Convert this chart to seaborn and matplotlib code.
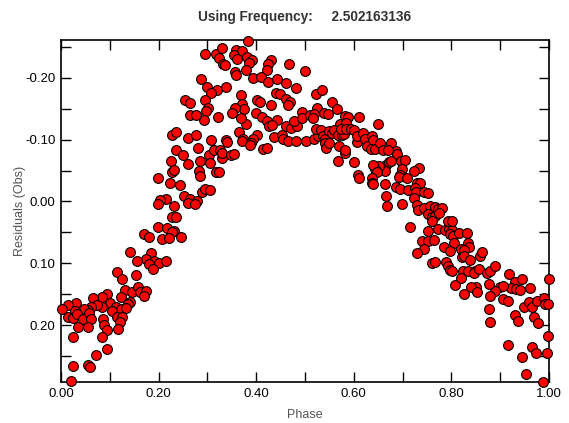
import matplotlib
matplotlib.use("Agg")
import matplotlib.pyplot as plt
from matplotlib.ticker import MultipleLocator, FormatStrFormatter
import seaborn as sns
import pandas as pd

# phase / residual values
phase_rise = [0.2275, 0.2357, 0.1988, 0.2172, 0.2316, 0.2275, 0.1701, 0.1803, 0.2070, 0.2213,
              0.2459, 0.1414, 0.1844, 0.1742, 0.1906, 0.1803, 0.2008, 0.1885, 0.2152, 0.1557,
              0.1148, 0.1250, 0.1537, 0.1311, 0.1455, 0.1578, 0.1619, 0.1742, 0.1701, 0.0943,
              0.0840, 0.0656, 0.1230, 0.1414, 0.1373, 0.1004, 0.1127, 0.1230, 0.1332, 0.1045,
              0.1148, 0.1250, 0.1209, 0.1168, 0.0840, 0.0738, 0.0615, 0.0553, 0.0471, 0.0307,
              0.0143, 0.0287, 0.0020, 0.0143, 0.0246, 0.0328, 0.0451, 0.0574, 0.0615, 0.0553,
              0.0348, 0.0861, 0.0881, 0.0943, 0.0840, 0.0943, 0.0246, 0.0717, 0.0553, 0.0594,
              0.0246, 0.0205]
resid_rise = [0.0258, 0.0258, 0.0419, 0.0435, 0.0484, 0.0500, 0.0532, 0.0581, 0.0613, 0.0597,
              0.0581, 0.0823, 0.0839, 0.0935, 0.0968, 0.1016, 0.1000, 0.1097, 0.0968, 0.0968,
              0.1145, 0.1258, 0.1194, 0.1435, 0.1468, 0.1387, 0.1468, 0.1452, 0.1532, 0.1500,
              0.1548, 0.1565, 0.1548, 0.1629, 0.1661, 0.1645, 0.1710, 0.1742, 0.1726, 0.1774,
              0.1871, 0.1871, 0.1952, 0.2065, 0.1710, 0.1677, 0.1710, 0.1758, 0.1742, 0.1645,
              0.1677, 0.1774, 0.1742, 0.1871, 0.1887, 0.1823, 0.1903, 0.1806, 0.1903, 0.2032,
              0.2032, 0.1903, 0.2000, 0.2081, 0.2194, 0.2387, 0.2194, 0.2484, 0.2645, 0.2677,
              0.2661, 0.2910]

phase_up = [0.2951, 0.3176, 0.3238, 0.3299, 0.3320, 0.3361, 0.2869, 0.2992, 0.3197, 0.3074,
            0.3381, 0.2541, 0.2643, 0.2951, 0.3012, 0.2971, 0.2930, 0.3217, 0.2643, 0.2766,
            0.2275, 0.2357, 0.2602, 0.2766, 0.3074, 0.2807, 0.2357, 0.2500, 0.2254, 0.2602,
            0.2848, 0.3033, 0.3135, 0.3258, 0.3053, 0.3299, 0.2275, 0.2316, 0.2828, 0.2848,
            0.3176, 0.3238, 0.1988, 0.2234, 0.2439, 0.2889, 0.2951, 0.3053, 0.2520, 0.2643,
            0.2787, 0.2152, 0.2029, 0.1988, 0.2316, 0.2602, 0.2746]
resid_up = [-0.2387, -0.2387, -0.2323, -0.2484, -0.2226, -0.2210, -0.1984, -0.1855, -0.1806, -0.1758,
            -0.1855, -0.1645, -0.1597, -0.1645, -0.1516, -0.1468, -0.1323, -0.1371, -0.1403, -0.1403,
            -0.1081, -0.1129, -0.1032, -0.1081, -0.1000, -0.0871, -0.0839, -0.0758, -0.0661, -0.0613,
            -0.0661, -0.0758, -0.0839, -0.0839, -0.0629, -0.0710, -0.0468, -0.0516, -0.0500, -0.0419,
            -0.0468, -0.0468, -0.0371, -0.0290, -0.0258, -0.0145, -0.0194, -0.0177, -0.0081, -0.0032,
            0.0000, -0.0032, -0.0016, 0.0048, 0.0081, 0.0032, 0.0048]

phase_peak = [0.3832, 0.3586, 0.3709, 0.3545, 0.3607, 0.3811, 0.3914, 0.3852, 0.4303, 0.4242,
              0.4221, 0.4672, 0.5000, 0.3566, 0.3586, 0.3791, 0.3934, 0.4098, 0.4242, 0.4426,
              0.4611, 0.4816, 0.3689, 0.4406, 0.4488, 0.4611, 0.4693, 0.4652, 0.4303, 0.4016,
              0.4078, 0.5225, 0.5348, 0.5553, 0.5656, 0.5246, 0.3709, 0.3750, 0.3566, 0.3504,
              0.3996, 0.4119, 0.4221, 0.4426, 0.4262, 0.4324, 0.3791, 0.3689, 0.4611, 0.4713,
              0.4836, 0.4775, 0.4939, 0.4939, 0.5102, 0.5184, 0.5164, 0.5389, 0.5471, 0.5820,
              0.5881, 0.6107, 0.6496, 0.5717, 0.5840, 0.3648, 0.3730, 0.3709, 0.4016, 0.3934,
              0.3893, 0.3873, 0.3381, 0.3402, 0.3299, 0.3484, 0.3545, 0.4139, 0.4221, 0.4365,
              0.4529, 0.4549, 0.4652, 0.4816, 0.5020, 0.5184, 0.5266, 0.5225, 0.5328, 0.5369,
              0.5410, 0.5410, 0.5430, 0.5492, 0.5492, 0.5553, 0.5594, 0.5676, 0.5758, 0.5799,
              0.5738, 0.5840, 0.5943, 0.6004, 0.5697, 0.5820, 0.5820, 0.5676, 0.6004, 0.6066,
              0.6066, 0.6189, 0.6230, 0.6270, 0.6373, 0.6393, 0.6352, 0.6434, 0.6537, 0.6598,
              0.6660, 0.6639, 0.6516, 0.6434, 0.6393, 0.6475, 0.6086, 0.6107, 0.6373, 0.6373,
              0.6393, 0.6639, 0.6660, 0.6680, 0.6721, 0.6762]
resid_peak = [-0.2597, -0.2452, -0.2435, -0.2371, -0.2306, -0.2339, -0.2290, -0.2242, -0.2290, -0.2226,
              -0.2129, -0.2226, -0.2113, -0.2097, -0.2048, -0.2129, -0.2000, -0.2016, -0.1935, -0.1984,
              -0.1919, -0.1839, -0.1726, -0.1758, -0.1742, -0.1661, -0.1613, -0.1565, -0.1565, -0.1645,
              -0.1613, -0.1742, -0.1806, -0.1613, -0.1500, -0.1516, -0.1581, -0.1500, -0.1516, -0.1435,
              -0.1435, -0.1371, -0.1306, -0.1323, -0.1226, -0.1242, -0.1258, -0.1355, -0.1226, -0.1194,
              -0.1226, -0.1306, -0.1452, -0.1355, -0.1403, -0.1419, -0.1355, -0.1435, -0.1419, -0.1387,
              -0.1371, -0.1371, -0.1258, -0.1258, -0.1274, -0.1129, -0.1016, -0.0984, -0.1081, -0.1016,
              -0.0952, -0.0919, -0.1000, -0.0968, -0.0790, -0.0758, -0.0774, -0.0855, -0.0871, -0.1048,
              -0.1081, -0.1016, -0.0984, -0.0984, -0.0984, -0.1016, -0.1065, -0.1177, -0.1161, -0.1065,
              -0.1016, -0.0952, -0.0871, -0.0952, -0.1145, -0.1113, -0.1161, -0.1081, -0.1081, -0.1097,
              -0.1177, -0.1177, -0.1177, -0.1161, -0.0903, -0.0790, -0.0839, -0.0661, -0.0645, -0.0968,
              -0.1065, -0.1113, -0.1016, -0.0903, -0.1065, -0.1000, -0.0855, -0.0855, -0.0952, -0.0839,
              -0.0581, -0.0484, -0.0565, -0.0532, -0.0581, -0.0468, -0.0435, -0.0371, -0.0371, -0.0306,
              -0.0274, -0.0274, -0.0081, 0.0081, -0.0645, -0.0952]

phase_down = [0.6865, 0.6885, 0.6967, 0.7049, 0.6762, 0.6701, 0.6988, 0.7336, 0.7234, 0.6947,
              0.6926, 0.7090, 0.7295, 0.7357, 0.6865, 0.6947, 0.7111, 0.7254, 0.7275, 0.7439,
              0.7520, 0.6988, 0.7234, 0.7295, 0.7316, 0.7439, 0.7561, 0.7664, 0.7725, 0.7807,
              0.7520]
resid_down = [-0.0823, -0.0774, -0.0661, -0.0677, -0.0661, -0.0839, -0.0532, -0.0548, -0.0484, -0.0435,
              -0.0387, -0.0371, -0.0306, -0.0306, -0.0226, -0.0194, -0.0177, -0.0210, -0.0145, -0.0145,
              -0.0129, 0.0048, -0.0048, 0.0065, 0.0145, 0.0113, 0.0081, 0.0097, 0.0129, 0.0113,
              0.0210]

phase_tail = [0.7602, 0.7664, 0.7602, 0.7746, 0.7152, 0.7520, 0.7725, 0.7869, 0.7951, 0.8012,
              0.7971, 0.8033, 0.8156, 0.8320, 0.7930, 0.8012, 0.7398, 0.7520, 0.7643, 0.7439,
              0.7295, 0.8053, 0.7848, 0.7971, 0.8197, 0.8340, 0.8361, 0.8258, 0.8217, 0.8258,
              0.8381, 0.8586, 0.8627, 0.7602, 0.7664, 0.7889, 0.7930, 0.7971, 0.8012, 0.8238,
              0.8340, 0.8484, 0.8463, 0.8566, 0.8730, 0.8791, 0.8893, 0.9180, 0.9303, 0.9447,
              0.9611, 0.9221, 0.9324, 0.9406, 0.8996, 0.9057, 0.8893, 0.8770, 0.8504, 0.8402,
              0.8525, 0.8258, 0.8074, 0.8197, 0.8791, 0.9057, 0.9160, 0.8770, 0.8791, 0.9303,
              0.9365, 0.9488, 0.9590, 0.9652, 0.9693, 0.9775, 0.9754, 0.9898, 0.9918, 0.9980,
              1.0000, 0.9160, 0.9447, 0.9652, 0.9734, 0.9529, 0.9877, 0.9959, 0.9980]
resid_tail = [0.0258, 0.0242, 0.0323, 0.0194, 0.0419, 0.0484, 0.0452, 0.0468, 0.0452, 0.0468,
              0.0532, 0.0565, 0.0516, 0.0516, 0.0323, 0.0323, 0.0645, 0.0645, 0.0629, 0.0774,
              0.0839, 0.0677, 0.0742, 0.0806, 0.0774, 0.0677, 0.0742, 0.0790, 0.0903, 0.0887,
              0.0952, 0.0887, 0.0823, 0.1000, 0.0984, 0.0984, 0.1048, 0.1113, 0.1129, 0.1129,
              0.1129, 0.1129, 0.1161, 0.1097, 0.1161, 0.1129, 0.1048, 0.1177, 0.1306, 0.1258,
              0.1403, 0.1403, 0.1419, 0.1435, 0.1387, 0.1371, 0.1452, 0.1339, 0.1387, 0.1387,
              0.1468, 0.1500, 0.1355, 0.1242, 0.1532, 0.1581, 0.1613, 0.1742, 0.1952, 0.1839,
              0.1935, 0.1710, 0.1629, 0.1710, 0.1871, 0.1968, 0.1613, 0.1565, 0.1661, 0.1661,
              0.1258, 0.2323, 0.2516, 0.2355, 0.2452, 0.2790, 0.2919, 0.2452, 0.2177]

frequency = "2.502163136"

df = pd.DataFrame({
    "Phase": phase_rise + phase_up + phase_peak + phase_down + phase_tail,
    "Residuals": resid_rise + resid_up + resid_peak + resid_down + resid_tail,
})

sns.set_style("ticks")
plt.rcParams["font.family"] = ["Liberation Sans", "DejaVu Sans"]
plt.rcParams["axes.unicode_minus"] = False

fig = plt.figure(figsize=(5.69, 4.23), dpi=100)
ax = fig.add_axes([0.1072, 0.0969, 0.8577, 0.8085])

sns.scatterplot(data=df, x="Phase", y="Residuals", ax=ax, color="#ff0000",
                edgecolor="black", linewidth=0.8, s=50, clip_on=False, zorder=3)

ax.set_xlim(0, 1)
ax.set_ylim(0.292, -0.261)

ax.xaxis.set_major_locator(MultipleLocator(0.2))
ax.xaxis.set_minor_locator(MultipleLocator(0.1))
ax.yaxis.set_major_locator(MultipleLocator(0.1))
ax.yaxis.set_minor_locator(MultipleLocator(0.05))
ax.xaxis.set_major_formatter(FormatStrFormatter("%.2f"))
ax.yaxis.set_major_formatter(FormatStrFormatter("%.2f"))

ax.tick_params(which="both", direction="in", top=True, right=True,
               length=7, width=1, color="black", labelsize=9.5, labelcolor="black", pad=4)
for sp in ax.spines.values():
    sp.set_color("black")
    sp.set_linewidth(1.2)

ax.set_xlabel("Phase", fontsize=9, color="#555555", labelpad=7)
ax.set_ylabel("Residuals (Obs)", fontsize=9, color="#555555", labelpad=-1)
ax.set_title("Using Frequency:     " + frequency, fontsize=9.8, fontweight="bold",
             color="#333333", pad=14)

fig.savefig("out.png", dpi=100)
